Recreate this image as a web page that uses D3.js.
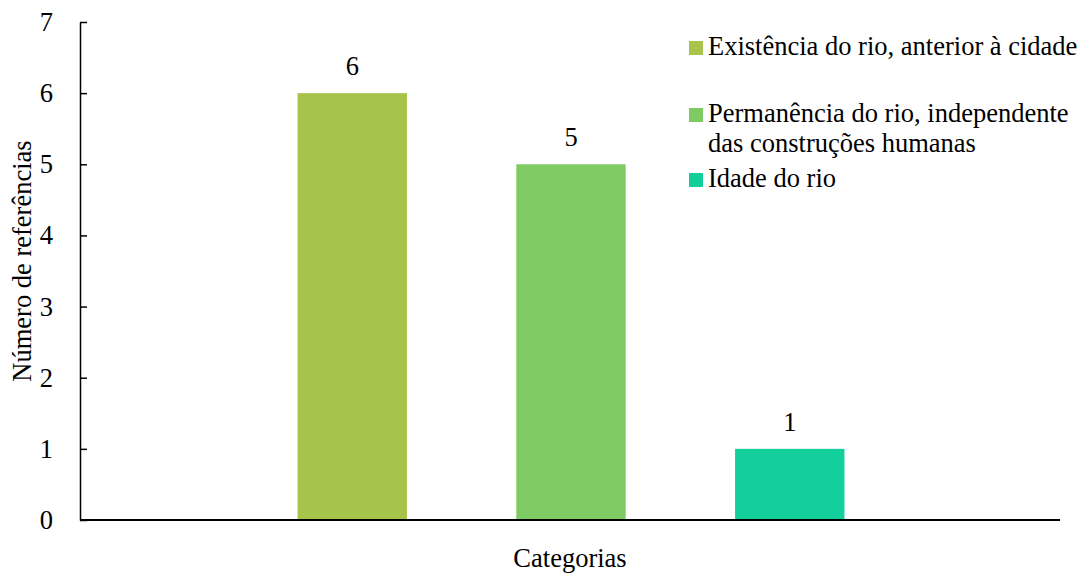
<!DOCTYPE html>
<html>
<head>
<meta charset="utf-8">
<script src="https://cdn.jsdelivr.net/npm/d3@7"></script>
<style>
  body { margin: 0; background: #fff; }
  text { font-family: "Liberation Serif", "Times New Roman", serif; fill: #000; }
</style>
</head>
<body>
<div class="chart"></div>
<script>
var series = ["Existência do rio, anterior à cidade", "Permanência do rio, independente das construções humanas", "Idade do rio"];
var legendLines = [["Existência do rio, anterior à cidade"], ["Permanência do rio, independente", "das construções humanas"], ["Idade do rio"]];
var values = [6, 5, 1];
var colors = ["#a6c34a", "#7ecb63", "#12cf9b"];
var yTicks = [0, 1, 2, 3, 4, 5, 6, 7];

var width = 1082, height = 574;
var mLeft = 80, mRight = 1060, mTop = 22, mBottom = 520;
var fs = "26.5px";

var svg = d3.select(".chart")
    .append("svg")
    .attr("width", width)
    .attr("height", height)

var y = d3.scaleLinear().domain([0, 7]).range([mBottom, mTop]);
var x = d3.scaleBand().domain(series).range([mLeft + 1, mRight + 1])
    .paddingInner(0.5).paddingOuter(0.99);

// bars
svg.selectAll("rect.bar")
    .data(values)
    .enter().append("rect")
    .attr("class", "bar")
    .attr("x", function(d, i) { return x(series[i]); })
    .attr("y", function(d) { return y(d); })
    .attr("width", x.bandwidth())
    .attr("height", function(d) { return y(0) - y(d); })
    .attr("fill", function(d, i) { return colors[i]; })

// value labels
svg.selectAll("text.val")
    .data(values)
    .enter().append("text")
    .attr("class", "val")
    .attr("x", function(d, i) { return x(series[i]) + x.bandwidth() / 2; })
    .attr("y", function(d) { return y(d) - 18; })
    .attr("text-anchor", "middle")
    .style("font-size", fs)
    .text(function(d) { return d; })

// y axis
var yAxis = d3.axisLeft(y).tickValues(yTicks).tickFormat(d3.format("d"))
    .tickSizeInner(-7).tickSizeOuter(0).tickPadding(27);
var gy = svg.append("g").attr("transform", "translate(" + mLeft + ",0)").call(yAxis);
gy.select(".domain").attr("stroke", "#000").attr("stroke-width", 1.5);
gy.selectAll(".tick line").attr("stroke", "#000").attr("stroke-width", 1.5);
gy.selectAll(".tick text")
    .style("font-size", fs)
    .style("font-family", "Liberation Serif, serif")
    .attr("fill", "#000")

// x axis line
svg.append("line")
    .attr("x1", mLeft).attr("x2", mRight)
    .attr("y1", mBottom).attr("y2", mBottom)
    .attr("stroke", "#000").attr("stroke-width", 2)

// axis titles
svg.append("text")
    .attr("x", (mLeft + mRight) / 2)
    .attr("y", 567)
    .attr("text-anchor", "middle")
    .style("font-size", fs)
    .text("Categorias")

svg.append("text")
    .attr("transform", "translate(31,261) rotate(-90)")
    .attr("text-anchor", "middle")
    .style("font-size", fs)
    .text("Número de referências")

// legend
var legendY = [55, 122, 187];
for (var i = 0; i < series.length; i++) {
    svg.append("rect")
        .attr("x", 689)
        .attr("y", legendY[i] - 14)
        .attr("width", 14)
        .attr("height", 14)
        .attr("fill", colors[i])
    for (var j = 0; j < legendLines[i].length; j++) {
        svg.append("text")
            .attr("x", 708)
            .attr("y", legendY[i] + j * 30)
            .style("font-size", fs)
            .text(legendLines[i][j])
    }
}
</script>
</body>
</html>
